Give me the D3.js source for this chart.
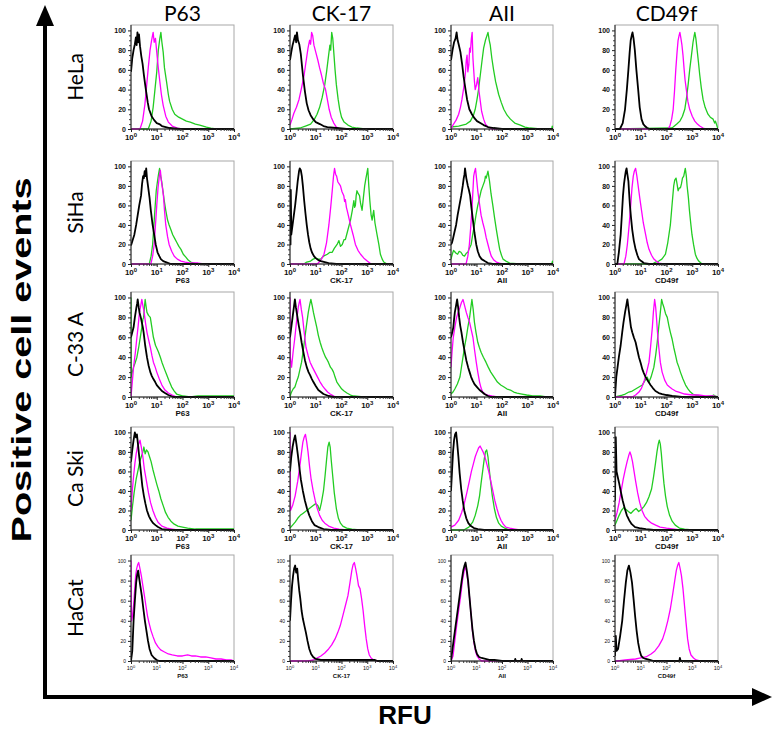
<!DOCTYPE html>
<html><head><meta charset="utf-8">
<script src="https://cdn.jsdelivr.net/npm/d3@7"></script>
<style>body{margin:0;background:#fff}svg{display:block}</style>
</head><body>
<svg id="c" width="773" height="732"></svg>
<script>
// ---------- labels ----------
const markers = ["P63","CK-17","AII","CD49f"];
const cellLines = ["HeLa","SiHa","C-33 A","Ca Ski","HaCat"];
const yTicks = [0,20,40,60,80,100];
const xTickExps = [0,1,2,3,4];
const yAxisTitle = "Positive cell events";
const xAxisTitle = "RFU";

// ---------- data: [log10(RFU), % of max] ; iso = black, ctrl = magenta, ab = green ----------
// HeLa
const hela_p63_iso=[[0,58],[0.05,72],[0.1,80],[0.15,86],[0.19,93],[0.22,85],[0.25,98],[0.28,88],[0.31,96],[0.35,84],[0.4,74],[0.45,66],[0.5,55],[0.55,45],[0.6,36],[0.65,27],[0.7,20],[0.8,13],[0.9,9],[1.0,6],[1.1,5],[1.2,3],[1.5,1],[1.9,0],[4,0]];
const hela_p63_ctrl=[[0,0],[0.35,0],[0.45,8],[0.54,25],[0.6,42],[0.67,62],[0.74,80],[0.8,90],[0.86,98],[0.9,88],[0.95,92],[1.0,78],[1.06,62],[1.12,48],[1.18,35],[1.25,24],[1.35,13],[1.45,7],[1.6,3],[1.8,1],[2.0,0],[4,0]];
const hela_p63_ab=[[0,0],[0.67,0],[0.78,8],[0.86,22],[0.93,40],[1.0,58],[1.06,80],[1.12,92],[1.16,98],[1.2,88],[1.25,78],[1.3,62],[1.38,48],[1.45,35],[1.5,28],[1.6,20],[1.7,15],[1.85,12],[2.0,10],[2.15,8],[2.3,7],[2.5,5],[2.67,4],[2.8,3],[2.93,2],[3.1,1],[3.3,0],[4,0]];
const hela_ck17_iso=[[0,70],[0.05,78],[0.1,85],[0.15,90],[0.2,95],[0.24,88],[0.27,98],[0.31,90],[0.36,86],[0.42,76],[0.5,55],[0.58,38],[0.65,26],[0.72,19],[0.8,14],[0.9,10],[1.0,7],[1.16,5],[1.3,3],[1.45,2],[1.8,1],[2.2,0],[4,0]];
const hela_ck17_ctrl=[[0,4],[0.08,10],[0.15,16],[0.25,22],[0.35,30],[0.45,42],[0.55,55],[0.62,68],[0.7,82],[0.76,90],[0.8,86],[0.84,98],[0.88,95],[0.93,85],[1.0,78],[1.08,70],[1.15,62],[1.22,55],[1.3,46],[1.38,40],[1.45,30],[1.52,20],[1.6,12],[1.7,6],[1.8,2],[1.95,0],[4,0]];
const hela_ck17_ab=[[0,0],[0.39,1],[0.6,3],[0.8,5],[0.95,10],[1.05,15],[1.15,22],[1.25,32],[1.35,45],[1.42,58],[1.5,75],[1.55,85],[1.58,80],[1.62,98],[1.66,92],[1.7,78],[1.75,60],[1.8,45],[1.87,30],[1.93,20],[2.0,12],[2.1,7],[2.25,4],[2.4,2],[2.6,1],[2.9,0],[4,0]];
const hela_aii_iso=[[0,70],[0.06,80],[0.12,88],[0.18,92],[0.22,98],[0.26,90],[0.3,86],[0.37,78],[0.44,65],[0.5,52],[0.57,40],[0.63,30],[0.72,20],[0.82,15],[0.92,11],[1.02,8],[1.15,6],[1.28,4],[1.45,2],[1.67,1],[2.0,0],[4,0]];
const hela_aii_ctrl=[[0,0],[0.1,5],[0.2,9],[0.3,15],[0.37,22],[0.43,30],[0.5,42],[0.56,55],[0.6,70],[0.63,75],[0.66,58],[0.7,65],[0.73,82],[0.76,78],[0.8,92],[0.83,98],[0.86,72],[0.89,60],[0.92,48],[0.95,40],[1.0,45],[1.05,52],[1.1,38],[1.15,28],[1.2,18],[1.28,10],[1.35,5],[1.45,2],[1.6,0],[4,0]];
const hela_aii_ab=[[0,2],[0.3,3],[0.6,5],[0.76,8],[0.88,14],[0.95,20],[1.02,30],[1.08,40],[1.15,55],[1.22,70],[1.28,82],[1.35,90],[1.4,94],[1.45,98],[1.5,90],[1.54,85],[1.6,72],[1.67,60],[1.75,48],[1.87,35],[1.97,27],[2.07,20],[2.2,14],[2.33,10],[2.5,6],[2.72,4],[2.9,2],[3.1,1],[3.5,0],[3.95,0],[3.97,3],[4,0]];
const hela_cd49f_iso=[[0,0],[0.19,0],[0.3,6],[0.39,20],[0.46,40],[0.52,60],[0.57,78],[0.61,90],[0.65,95],[0.68,98],[0.72,92],[0.77,80],[0.83,60],[0.9,40],[0.96,22],[1.03,10],[1.1,5],[1.16,3],[1.25,1],[1.35,0],[4,0]];
const hela_cd49f_ctrl=[[0,0],[2.05,0],[2.13,3],[2.2,10],[2.26,20],[2.31,38],[2.36,60],[2.41,78],[2.45,90],[2.49,95],[2.52,98],[2.56,92],[2.6,85],[2.64,75],[2.68,62],[2.72,50],[2.77,40],[2.83,28],[2.9,20],[3.0,13],[3.1,8],[3.2,5],[3.29,3],[3.42,1],[3.55,0],[4,0]];
const hela_cd49f_ab=[[0,0],[2.2,1],[2.26,2],[2.4,5],[2.52,8],[2.62,13],[2.71,20],[2.78,32],[2.84,45],[2.9,60],[2.97,75],[3.03,88],[3.07,94],[3.1,98],[3.14,92],[3.19,80],[3.24,68],[3.29,55],[3.35,42],[3.42,30],[3.5,22],[3.61,15],[3.7,12],[3.81,10],[3.87,6],[3.9,8],[3.95,4],[4,0]];
// SiHa
const siha_p63_iso=[[0,19],[0.06,24],[0.13,30],[0.2,40],[0.26,50],[0.32,60],[0.39,70],[0.43,82],[0.47,90],[0.5,88],[0.53,95],[0.56,90],[0.59,98],[0.62,88],[0.66,80],[0.72,68],[0.77,55],[0.83,42],[0.9,30],[0.96,20],[1.03,12],[1.1,8],[1.16,5],[1.25,3],[1.35,2],[1.55,0],[4,0]];
const siha_p63_ctrl=[[0,0],[0.77,0],[0.84,8],[0.9,20],[0.95,40],[1.0,60],[1.05,78],[1.1,90],[1.14,96],[1.18,85],[1.22,78],[1.26,70],[1.3,55],[1.35,40],[1.42,28],[1.48,20],[1.58,13],[1.68,8],[1.8,5],[1.94,3],[2.1,2],[2.32,1],[2.6,1],[2.84,0],[4,0]];
const siha_p63_ab=[[0,0],[0.71,0],[0.78,8],[0.84,20],[0.89,40],[0.94,60],[0.98,75],[1.03,85],[1.07,92],[1.11,98],[1.15,90],[1.19,85],[1.24,75],[1.29,65],[1.35,55],[1.42,45],[1.48,40],[1.55,35],[1.62,30],[1.7,26],[1.78,22],[1.86,18],[1.94,15],[2.03,10],[2.13,7],[2.22,4],[2.32,2],[2.45,1],[2.58,0],[4,0]];
const siha_ck17_iso=[[0,20],[0.02,20],[0.03,76],[0.05,30],[0.1,40],[0.15,50],[0.2,60],[0.25,72],[0.3,85],[0.35,95],[0.38,98],[0.42,96],[0.46,90],[0.5,80],[0.55,65],[0.6,52],[0.65,40],[0.7,30],[0.75,22],[0.8,16],[0.85,12],[0.93,8],[1.0,6],[1.1,4],[1.2,3],[1.35,2],[1.5,1],[1.8,0],[4,0]];
const siha_ck17_ctrl=[[0,0],[1.06,0],[1.2,4],[1.32,10],[1.42,22],[1.51,40],[1.58,58],[1.64,75],[1.69,90],[1.73,98],[1.77,92],[1.81,90],[1.86,84],[1.91,82],[1.96,80],[2.02,74],[2.09,70],[2.12,64],[2.15,66],[2.19,58],[2.22,55],[2.28,48],[2.35,40],[2.45,30],[2.54,20],[2.64,14],[2.74,10],[2.87,6],[3.0,3],[3.1,1],[3.19,0],[4,0]];
const siha_ck17_ab=[[0,0],[0.54,0],[0.65,2],[0.8,3],[0.9,5],[1.0,6],[1.1,5],[1.19,5],[1.3,8],[1.45,10],[1.55,12],[1.64,12],[1.72,16],[1.83,20],[1.9,24],[1.96,18],[2.03,20],[2.1,25],[2.15,25],[2.22,32],[2.3,40],[2.35,45],[2.42,55],[2.48,65],[2.51,58],[2.54,60],[2.57,70],[2.6,75],[2.65,72],[2.7,70],[2.74,62],[2.8,55],[2.85,68],[2.9,80],[2.95,88],[2.98,92],[3.02,98],[3.06,80],[3.1,65],[3.15,50],[3.19,45],[3.22,50],[3.25,55],[3.3,42],[3.38,30],[3.45,20],[3.51,10],[3.58,5],[3.64,2],[3.77,0],[4,0]];
const siha_aii_iso=[[0,20],[0.04,22],[0.07,25],[0.13,32],[0.2,40],[0.26,50],[0.33,60],[0.4,70],[0.46,80],[0.5,88],[0.53,92],[0.55,98],[0.6,88],[0.66,80],[0.7,76],[0.75,70],[0.8,58],[0.86,45],[0.92,32],[0.99,20],[1.05,13],[1.12,8],[1.2,5],[1.32,3],[1.45,1],[1.64,0],[4,0]];
const siha_aii_ctrl=[[0,0],[0.59,0],[0.66,8],[0.72,20],[0.78,40],[0.83,60],[0.87,80],[0.89,90],[0.92,94],[0.96,98],[1.0,88],[1.05,75],[1.1,65],[1.18,50],[1.25,42],[1.32,35],[1.38,27],[1.45,20],[1.52,13],[1.58,8],[1.68,4],[1.78,2],[1.9,1],[2.04,0],[4,0]];
const siha_aii_ab=[[0,5],[0.05,10],[0.1,14],[0.13,13],[0.2,11],[0.26,10],[0.32,13],[0.39,12],[0.46,9],[0.53,8],[0.6,11],[0.66,12],[0.72,16],[0.79,20],[0.85,30],[0.92,40],[0.98,50],[1.05,60],[1.12,68],[1.18,75],[1.25,80],[1.32,85],[1.35,90],[1.38,88],[1.42,92],[1.45,95],[1.48,90],[1.51,85],[1.57,72],[1.64,60],[1.71,47],[1.78,35],[1.85,24],[1.91,15],[1.98,9],[2.04,5],[2.15,3],[2.3,1],[2.7,0],[3.95,0],[3.98,3],[4,0]];
const siha_cd49f_iso=[[0,0],[0.09,0],[0.15,12],[0.22,30],[0.27,52],[0.31,70],[0.35,82],[0.39,90],[0.42,95],[0.45,98],[0.48,92],[0.52,85],[0.55,72],[0.58,60],[0.62,48],[0.67,35],[0.73,24],[0.8,15],[0.87,9],[0.93,5],[1.02,3],[1.12,1],[1.32,0],[4,0]];
const siha_cd49f_ctrl=[[0,0],[0.35,0],[0.42,8],[0.48,20],[0.55,40],[0.61,60],[0.66,78],[0.71,90],[0.75,95],[0.8,98],[0.85,90],[0.9,80],[0.96,68],[1.03,55],[1.1,42],[1.19,30],[1.25,22],[1.32,15],[1.42,9],[1.51,5],[1.6,3],[1.7,1],[1.9,0],[4,0]];
const siha_cd49f_ab=[[0,0],[1.45,0],[1.58,2],[1.7,3],[1.82,5],[1.96,10],[2.05,22],[2.15,40],[2.22,62],[2.28,80],[2.32,86],[2.37,88],[2.41,82],[2.45,75],[2.5,78],[2.54,78],[2.58,82],[2.62,88],[2.67,90],[2.7,94],[2.73,98],[2.77,90],[2.8,80],[2.85,68],[2.89,55],[2.94,42],[2.99,30],[3.05,20],[3.12,10],[3.18,6],[3.25,3],[3.38,0],[4,0]];
// C-33 A
const c33_p63_iso=[[0,60],[0.05,65],[0.1,70],[0.15,80],[0.21,90],[0.24,94],[0.26,98],[0.3,90],[0.33,85],[0.38,80],[0.42,75],[0.46,70],[0.49,65],[0.55,52],[0.62,40],[0.68,32],[0.75,25],[0.81,21],[0.87,18],[0.94,15],[1.0,12],[1.1,9],[1.2,6],[1.32,4],[1.45,2],[1.65,0],[4,0]];
const c33_p63_ctrl=[[0,0],[0.05,15],[0.1,30],[0.17,45],[0.23,60],[0.28,72],[0.33,85],[0.38,92],[0.42,98],[0.46,92],[0.51,85],[0.56,75],[0.62,65],[0.68,58],[0.75,50],[0.81,42],[0.87,35],[0.94,30],[1.0,25],[1.1,18],[1.2,12],[1.32,7],[1.45,4],[1.6,2],[1.77,0],[4,0]];
const c33_p63_ab=[[0,100],[0.005,20],[0.05,25],[0.1,30],[0.17,35],[0.23,40],[0.3,50],[0.36,60],[0.42,70],[0.46,78],[0.49,80],[0.52,90],[0.55,98],[0.58,92],[0.62,85],[0.68,82],[0.75,80],[0.81,70],[0.87,60],[0.95,52],[1.02,48],[1.07,45],[1.14,40],[1.2,35],[1.3,28],[1.39,22],[1.48,16],[1.58,10],[1.68,6],[1.77,3],[1.9,2],[2.03,1],[2.3,0],[2.6,1],[3,1],[3.5,1],[4,1]];
const c33_ck17_iso=[[0,60],[0.05,70],[0.1,80],[0.15,90],[0.19,98],[0.23,90],[0.29,80],[0.34,72],[0.39,65],[0.45,55],[0.52,45],[0.58,37],[0.65,30],[0.72,25],[0.78,22],[0.85,18],[0.91,15],[1.0,11],[1.1,7],[1.2,5],[1.3,3],[1.5,1],[1.69,0],[4,0]];
const c33_ck17_ctrl=[[0,100],[0.01,40],[0.06,30],[0.12,45],[0.19,60],[0.25,75],[0.32,90],[0.36,95],[0.39,98],[0.44,88],[0.49,80],[0.55,65],[0.62,50],[0.7,42],[0.78,35],[0.87,30],[0.97,25],[1.07,20],[1.17,15],[1.27,11],[1.36,8],[1.46,5],[1.56,3],[1.7,1],[1.82,0],[4,0]];
const c33_ck17_ab=[[0,0],[0.03,3],[0.06,5],[0.12,8],[0.19,10],[0.25,15],[0.32,20],[0.38,27],[0.45,35],[0.52,48],[0.58,60],[0.64,72],[0.71,85],[0.76,92],[0.81,98],[0.86,92],[0.91,85],[0.97,78],[1.04,70],[1.1,62],[1.17,55],[1.23,50],[1.3,45],[1.38,40],[1.45,37],[1.49,35],[1.57,30],[1.63,28],[1.69,25],[1.75,20],[1.82,15],[1.9,12],[2.01,8],[2.1,6],[2.21,4],[2.35,2],[2.47,1],[2.86,0],[4,0]];
const c33_aii_iso=[[0,60],[0.05,65],[0.09,70],[0.12,78],[0.15,85],[0.2,92],[0.24,98],[0.28,90],[0.32,80],[0.36,72],[0.41,65],[0.47,55],[0.54,45],[0.6,37],[0.67,30],[0.73,25],[0.79,20],[0.86,16],[0.92,13],[1.02,10],[1.12,7],[1.22,5],[1.31,3],[1.45,1],[1.56,0],[4,0]];
const c33_aii_ctrl=[[0,30],[0.04,45],[0.09,60],[0.15,70],[0.22,80],[0.28,85],[0.35,90],[0.41,95],[0.47,98],[0.53,92],[0.6,85],[0.66,80],[0.73,75],[0.79,68],[0.86,60],[0.92,48],[0.99,35],[1.05,25],[1.12,15],[1.18,9],[1.24,5],[1.34,3],[1.44,2],[1.6,1],[1.82,0],[4,0]];
const c33_aii_ab=[[0,3],[0.08,5],[0.15,8],[0.25,13],[0.35,20],[0.41,30],[0.47,40],[0.53,50],[0.6,60],[0.66,70],[0.73,80],[0.78,90],[0.82,98],[0.87,88],[0.92,75],[0.98,65],[1.05,55],[1.11,50],[1.18,45],[1.27,40],[1.37,35],[1.46,30],[1.56,25],[1.69,20],[1.82,15],[1.95,12],[2.08,10],[2.2,8],[2.33,7],[2.46,5],[2.59,4],[2.78,3],[2.97,2],[3.2,1],[3.49,1],[3.75,0],[4,0]];
const c33_cd49f_iso=[[0,0],[0.05,20],[0.1,30],[0.15,40],[0.22,52],[0.28,65],[0.33,75],[0.39,85],[0.44,92],[0.48,98],[0.52,90],[0.57,80],[0.62,70],[0.67,65],[0.73,60],[0.8,55],[0.86,48],[0.93,40],[1.0,34],[1.06,28],[1.12,24],[1.19,20],[1.28,16],[1.38,12],[1.47,9],[1.57,6],[1.7,4],[1.83,3],[2.0,2],[2.22,1],[2.6,0],[4,0]];
const c33_cd49f_ctrl=[[0,0],[0.67,0],[0.8,2],[0.93,5],[1.03,9],[1.12,15],[1.22,24],[1.32,35],[1.38,50],[1.45,70],[1.49,85],[1.54,98],[1.58,90],[1.61,80],[1.65,65],[1.7,50],[1.76,35],[1.83,25],[1.93,17],[2.03,12],[2.12,10],[2.22,8],[2.35,6],[2.48,5],[2.7,3],[3.0,2],[3.25,2],[3.5,1],[3.8,1],[4,0]];
const c33_cd49f_ab=[[0,0],[0.28,2],[0.4,3],[0.54,5],[0.67,6],[0.8,8],[0.93,10],[1.06,12],[1.15,16],[1.25,20],[1.32,15],[1.4,20],[1.51,30],[1.58,42],[1.64,55],[1.69,68],[1.74,80],[1.78,90],[1.81,98],[1.85,94],[1.9,90],[1.96,84],[2.03,80],[2.09,72],[2.15,65],[2.22,58],[2.28,50],[2.35,42],[2.41,35],[2.48,30],[2.54,25],[2.64,18],[2.74,12],[2.84,8],[2.93,5],[3.02,3],[3.12,2],[3.3,1],[3.5,0],[3.75,1],[3.83,2],[3.9,1],[4,0]];
// Ca Ski
const caski_p63_iso=[[0,70],[0.05,82],[0.1,92],[0.15,100],[0.19,95],[0.23,98],[0.27,88],[0.32,75],[0.38,60],[0.44,45],[0.5,35],[0.56,27],[0.62,20],[0.7,14],[0.78,10],[0.86,7],[0.95,5],[1.05,3],[1.2,1],[1.5,0],[4,0]];
const caski_p63_ctrl=[[0,20],[0.05,40],[0.1,55],[0.15,68],[0.2,78],[0.25,85],[0.3,88],[0.35,92],[0.4,85],[0.46,75],[0.52,62],[0.6,50],[0.68,38],[0.76,28],[0.85,20],[0.95,13],[1.05,8],[1.2,4],[1.4,2],[1.6,1],[1.8,0],[4,0]];
const caski_p63_ab=[[0,10],[0.06,25],[0.12,38],[0.2,52],[0.28,62],[0.34,70],[0.4,75],[0.46,80],[0.5,85],[0.55,78],[0.6,82],[0.66,80],[0.72,75],[0.78,70],[0.85,62],[0.92,55],[1.0,47],[1.08,40],[1.16,32],[1.25,25],[1.34,18],[1.44,13],[1.55,9],[1.68,6],[1.82,4],[2.0,3],[2.2,2],[2.5,1],[3,1],[3.5,1],[4,1]];
const caski_ck17_iso=[[0,60],[0.05,75],[0.1,85],[0.15,92],[0.2,97],[0.25,88],[0.3,78],[0.36,65],[0.42,52],[0.5,40],[0.58,30],[0.66,22],[0.75,15],[0.85,9],[0.95,5],[1.1,3],[1.3,1],[1.6,0],[4,0]];
const caski_ck17_ctrl=[[0,100],[0.02,20],[0.1,25],[0.2,35],[0.3,50],[0.38,65],[0.45,80],[0.5,90],[0.55,95],[0.6,98],[0.65,90],[0.7,80],[0.76,65],[0.82,52],[0.9,40],[0.98,30],[1.06,22],[1.15,15],[1.25,10],[1.35,7],[1.5,4],[1.7,2],[1.9,1],[2.2,0],[4,0]];
const caski_ck17_ab=[[0,2],[0.1,5],[0.2,8],[0.3,12],[0.4,15],[0.5,17],[0.6,19],[0.7,21],[0.8,23],[0.9,25],[1.0,27],[1.08,25],[1.15,20],[1.22,28],[1.3,40],[1.36,55],[1.42,72],[1.47,85],[1.52,90],[1.56,85],[1.6,72],[1.66,55],[1.72,38],[1.8,22],[1.88,12],[1.96,7],[2.05,4],[2.2,2],[2.4,1],[2.7,0],[4,0]];
const caski_aii_iso=[[0,40],[0.04,60],[0.08,80],[0.12,92],[0.16,98],[0.2,100],[0.24,90],[0.29,75],[0.34,58],[0.4,42],[0.46,30],[0.52,20],[0.6,12],[0.68,7],[0.78,4],[0.9,2],[1.05,1],[1.3,0],[4,0]];
const caski_aii_ctrl=[[0,3],[0.15,5],[0.3,10],[0.42,18],[0.52,27],[0.62,38],[0.72,50],[0.8,60],[0.88,68],[0.95,75],[1.02,80],[1.08,84],[1.14,86],[1.2,83],[1.26,80],[1.32,76],[1.4,68],[1.48,60],[1.56,50],[1.64,40],[1.72,30],[1.8,22],[1.88,15],[1.96,10],[2.05,6],[2.15,3],[2.3,2],[2.5,1],[2.7,0],[4,0]];
const caski_aii_ab=[[0,0],[0.5,0],[0.7,3],[0.85,8],[0.95,15],[1.05,25],[1.12,35],[1.18,48],[1.24,60],[1.3,72],[1.35,80],[1.4,82],[1.45,75],[1.5,62],[1.56,48],[1.62,35],[1.7,22],[1.78,13],[1.87,7],[1.97,4],[2.1,2],[2.3,0],[4,0]];
const caski_cd49f_iso=[[0,30],[0.03,95],[0.06,60],[0.1,55],[0.16,48],[0.22,40],[0.3,30],[0.38,22],[0.46,15],[0.55,10],[0.65,6],[0.78,3],[0.95,2],[1.2,1],[1.5,0],[4,0]];
const caski_cd49f_ctrl=[[0,10],[0.08,18],[0.16,28],[0.24,40],[0.32,52],[0.4,62],[0.47,70],[0.53,76],[0.58,80],[0.63,76],[0.68,70],[0.74,60],[0.8,50],[0.88,38],[0.96,28],[1.05,20],[1.15,14],[1.28,10],[1.42,7],[1.58,5],[1.75,3],[2.0,2],[2.3,1],[2.5,0],[4,0]];
const caski_cd49f_ab=[[0,5],[0.08,10],[0.16,15],[0.25,20],[0.34,23],[0.43,21],[0.52,19],[0.62,17],[0.72,20],[0.82,22],[0.92,19],[1.02,21],[1.12,24],[1.22,28],[1.32,34],[1.42,42],[1.5,55],[1.57,68],[1.63,80],[1.68,88],[1.72,92],[1.76,88],[1.8,78],[1.85,62],[1.9,48],[1.96,35],[2.03,24],[2.12,15],[2.22,9],[2.34,5],[2.5,2],[2.7,1],[3.0,0],[4,0]];
// HaCat (no antibody trace)
const hacat_p63_iso=[[0,0],[0.05,10],[0.1,40],[0.15,60],[0.2,78],[0.24,86],[0.28,90],[0.32,82],[0.36,75],[0.42,65],[0.48,52],[0.54,40],[0.6,30],[0.66,20],[0.72,12],[0.8,6],[0.9,3],[1.0,1],[1.1,0],[4,0]];
const hacat_p63_ctrl=[[0,100],[0.02,40],[0.06,45],[0.1,55],[0.14,70],[0.18,85],[0.22,92],[0.26,96],[0.3,98],[0.34,93],[0.4,85],[0.46,75],[0.52,65],[0.58,55],[0.64,45],[0.7,38],[0.78,30],[0.86,24],[0.95,18],[1.05,14],[1.15,11],[1.3,9],[1.45,7],[1.6,6],[1.8,5],[2.0,5],[2.2,6],[2.35,5],[2.5,5],[2.7,4],[2.9,4],[3.1,3],[3.3,2],[3.5,2],[3.7,1],[3.9,1],[4,0]];
const hacat_ck17_iso=[[0,40],[0.04,60],[0.08,75],[0.12,85],[0.16,92],[0.2,95],[0.24,88],[0.28,92],[0.32,80],[0.36,70],[0.4,62],[0.45,50],[0.5,42],[0.56,35],[0.62,28],[0.68,20],[0.75,12],[0.82,7],[0.9,4],[1.0,2],[1.2,1],[1.5,1],[2.0,1],[2.5,1],[3.0,1],[3.3,1],[3.4,0],[4,0]];
const hacat_ck17_ctrl=[[0,0],[0.7,0],[0.9,1],[1.05,3],[1.2,5],[1.35,8],[1.5,12],[1.62,16],[1.75,22],[1.85,28],[1.95,35],[2.05,45],[2.15,55],[2.25,65],[2.33,78],[2.4,90],[2.45,96],[2.5,98],[2.55,92],[2.6,85],[2.66,75],[2.72,72],[2.78,62],[2.84,50],[2.9,35],[2.96,22],[3.02,12],[3.08,6],[3.15,3],[3.25,1],[3.4,0],[4,0]];
const hacat_aii_iso=[[0,0],[0.05,10],[0.1,20],[0.18,35],[0.26,50],[0.34,65],[0.42,80],[0.48,90],[0.53,95],[0.57,98],[0.62,90],[0.67,80],[0.72,65],[0.78,48],[0.84,32],[0.9,20],[0.96,12],[1.02,7],[1.1,4],[1.2,3],[1.35,2],[1.5,1],[1.7,1],[2.0,0],[2.5,0],[2.52,2],[2.55,0],[2.75,0],[2.77,2],[2.8,0],[4,0]];
const hacat_aii_ctrl=[[0,0],[0.08,5],[0.15,20],[0.22,35],[0.3,50],[0.38,65],[0.45,80],[0.52,90],[0.56,94],[0.6,90],[0.66,80],[0.72,65],[0.78,48],[0.84,30],[0.9,18],[0.96,10],[1.02,5],[1.1,2],[1.2,0],[4,0]];
const hacat_cd49f_iso=[[0,5],[0.03,25],[0.06,10],[0.12,12],[0.2,25],[0.28,40],[0.35,60],[0.42,78],[0.48,90],[0.54,95],[0.6,88],[0.66,78],[0.72,62],[0.78,45],[0.84,30],[0.9,18],[0.96,10],[1.02,5],[1.1,3],[1.2,2],[1.35,1],[1.5,0],[2.5,0],[2.52,3],[2.55,0],[4,0]];
const hacat_cd49f_ctrl=[[0,0],[0.1,0],[0.4,1],[0.8,2],[1.0,3],[1.2,4],[1.4,7],[1.55,10],[1.7,15],[1.85,22],[1.95,30],[2.05,40],[2.15,52],[2.25,68],[2.32,80],[2.38,90],[2.43,95],[2.48,98],[2.53,92],[2.58,85],[2.64,72],[2.7,55],[2.76,38],[2.82,22],[2.88,12],[2.95,6],[3.05,3],[3.15,1],[3.3,0],[4,0]];

// grid of panels built from the arrays above: [iso, ctrl, ab]
const grid = [
  [[hela_p63_iso,hela_p63_ctrl,hela_p63_ab],[hela_ck17_iso,hela_ck17_ctrl,hela_ck17_ab],[hela_aii_iso,hela_aii_ctrl,hela_aii_ab],[hela_cd49f_iso,hela_cd49f_ctrl,hela_cd49f_ab]],
  [[siha_p63_iso,siha_p63_ctrl,siha_p63_ab],[siha_ck17_iso,siha_ck17_ctrl,siha_ck17_ab],[siha_aii_iso,siha_aii_ctrl,siha_aii_ab],[siha_cd49f_iso,siha_cd49f_ctrl,siha_cd49f_ab]],
  [[c33_p63_iso,c33_p63_ctrl,c33_p63_ab],[c33_ck17_iso,c33_ck17_ctrl,c33_ck17_ab],[c33_aii_iso,c33_aii_ctrl,c33_aii_ab],[c33_cd49f_iso,c33_cd49f_ctrl,c33_cd49f_ab]],
  [[caski_p63_iso,caski_p63_ctrl,caski_p63_ab],[caski_ck17_iso,caski_ck17_ctrl,caski_ck17_ab],[caski_aii_iso,caski_aii_ctrl,caski_aii_ab],[caski_cd49f_iso,caski_cd49f_ctrl,caski_cd49f_ab]],
  [[hacat_p63_iso,hacat_p63_ctrl,null],[hacat_ck17_iso,hacat_ck17_ctrl,null],[hacat_aii_iso,hacat_aii_ctrl,null],[hacat_cd49f_iso,hacat_cd49f_ctrl,null]]
];

// ---------- layout ----------
const colX = [[131,234],[290,393],[451,553],[615,718]];
const rowY = [[25,129],[161,264],[292,397],[427,530],[555,661]];
const rowClip = [141, 283, 420, 554, 690];
const colors = ["#000000","#ff00ff","#22cc22"];
const widths = [1.8,1.3,1.3];
const sans = "'Liberation Sans', Arial, sans-serif";
const calib = "Lato, 'Open Sans', sans-serif";

const svg = d3.select("#c");
svg.append("rect").attr("width",773).attr("height",732).attr("fill","#fff");
const defs = svg.append("defs");

// column headers
markers.forEach((m,i)=>{
  svg.append("text").attr("x",(colX[i][0]+colX[i][1])/2).attr("y",21)
    .attr("text-anchor","middle").attr("font-family",calib).attr("font-size",21).text(m);
});
// row labels
cellLines.forEach((c,j)=>{
  const cy=(rowY[j][0]+rowY[j][1])/2;
  svg.append("text").attr("transform",`translate(83,${cy}) rotate(-90)`)
    .attr("text-anchor","middle").attr("font-family",calib).attr("font-size",21).text(c);
});

grid.forEach((row,j)=>{
  const small = j===4;
  defs.append("clipPath").attr("id","row"+j).append("rect")
    .attr("x",90).attr("y",rowY[j][0]-8).attr("width",660).attr("height",rowClip[j]-rowY[j][0]+8);
  const rg = svg.append("g").attr("clip-path",`url(#row${j})`);
  row.forEach((series,i)=>{
    const [x0,x1]=colX[i], [y0,y1]=rowY[j];
    const x=d3.scaleLog().domain([1,1e4]).range([x0,x1]);
    const y=d3.scaleLinear().domain([0,105.5]).range([y1,y0]);
    const g=rg.append("g");
    const cid=`p${j}_${i}`;
    defs.append("clipPath").attr("id",cid).append("rect").attr("x",x0).attr("y",y0).attr("width",x1-x0).attr("height",y1-y0+1);
    g.append("rect").attr("x",x0).attr("y",y0).attr("width",x1-x0).attr("height",y1-y0)
      .attr("fill","none").attr("stroke","#a8a8a8").attr("stroke-width",1);
    const line=d3.line().x(d=>x(Math.pow(10,d[0]))).y(d=>y(d[1]));
    const cg=g.append("g").attr("clip-path",`url(#${cid})`);
    [2,1,0].forEach(k=>{
      if(!series[k]) return;
      cg.append("path").attr("d",line(series[k])).attr("fill","none")
        .attr("stroke",colors[k]).attr("stroke-width",widths[k]).attr("stroke-linejoin","round");
    });
    // y axis
    const fs = small?5:7;
    const yMinor=d3.range(0,101,5).filter(v=>v%20!==0);
    g.append("g").attr("transform",`translate(${x0},0)`)
      .call(d3.axisLeft(y).tickValues(yMinor).tickSize(2).tickFormat(""))
      .call(a=>a.select(".domain").remove()).selectAll("line").attr("stroke","#444");
    const ya=g.append("g").attr("transform",`translate(${x0},0)`)
      .call(d3.axisLeft(y).tickValues(yTicks).tickSize(3).tickPadding(2));
    ya.select(".domain").attr("stroke","#222").attr("d",`M0,${y0}V${y1}`);
    ya.selectAll("line").attr("stroke","#222");
    ya.selectAll("text").attr("font-family",sans).attr("font-weight",small?"normal":"bold").attr("font-size",fs).attr("fill","#111");
    // x axis
    const xMinor=[];
    for(let k=0;k<4;k++) for(let m=2;m<10;m++) xMinor.push(m*Math.pow(10,k));
    g.append("g").attr("transform",`translate(0,${y1})`)
      .call(d3.axisBottom(x).tickValues(xMinor).tickSize(2).tickFormat(""))
      .call(a=>a.select(".domain").remove()).selectAll("line").attr("stroke","#444");
    const xa=g.append("g").attr("transform",`translate(0,${y1})`)
      .call(d3.axisBottom(x).tickValues(xTickExps.map(e=>Math.pow(10,e))).tickSize(3).tickFormat(""));
    xa.select(".domain").attr("stroke","#222").attr("d",`M${x0},0H${x1}`);
    xa.selectAll("line").attr("stroke","#222");
    xTickExps.forEach(e=>{
      const t=g.append("text").attr("x",x(Math.pow(10,e))).attr("y",y1+(small?9:11))
        .attr("text-anchor","middle").attr("font-family",sans).attr("font-weight",small?"normal":"bold")
        .attr("font-size",small?5.5:8).attr("fill","#111");
      t.append("tspan").text("10");
      t.append("tspan").attr("dy",small?-2.5:-3.5).attr("font-size",small?4:6).text(e);
    });
    if(j>0){
      g.append("text").attr("x",(x0+x1)/2).attr("y",y1+(small?17:19)).attr("text-anchor","middle")
        .attr("font-family",sans).attr("font-weight","bold").attr("font-size",small?6:8).attr("fill","#111").text(markers[i]);
    }
  });
});

// big axes arrows
svg.append("path").attr("d","M45,699V22").attr("stroke","#000").attr("stroke-width",4).attr("fill","none");
svg.append("path").attr("d","M43,697H756").attr("stroke","#000").attr("stroke-width",4).attr("fill","none");
svg.append("path").attr("d","M45,5L36,26L54,26Z").attr("fill","#000");
svg.append("path").attr("d","M772,697L752,688L752,706Z").attr("fill","#000");

svg.append("text").attr("transform","translate(31,360) rotate(-90)").attr("text-anchor","middle")
  .attr("font-family",sans).attr("font-weight","bold").attr("font-size",28)
  .attr("textLength",365).attr("lengthAdjust","spacingAndGlyphs").text(yAxisTitle);
svg.append("text").attr("x",405).attr("y",724).attr("text-anchor","middle")
  .attr("font-family",sans).attr("font-weight","bold").attr("font-size",26).text(xAxisTitle);
</script>
</body></html>
